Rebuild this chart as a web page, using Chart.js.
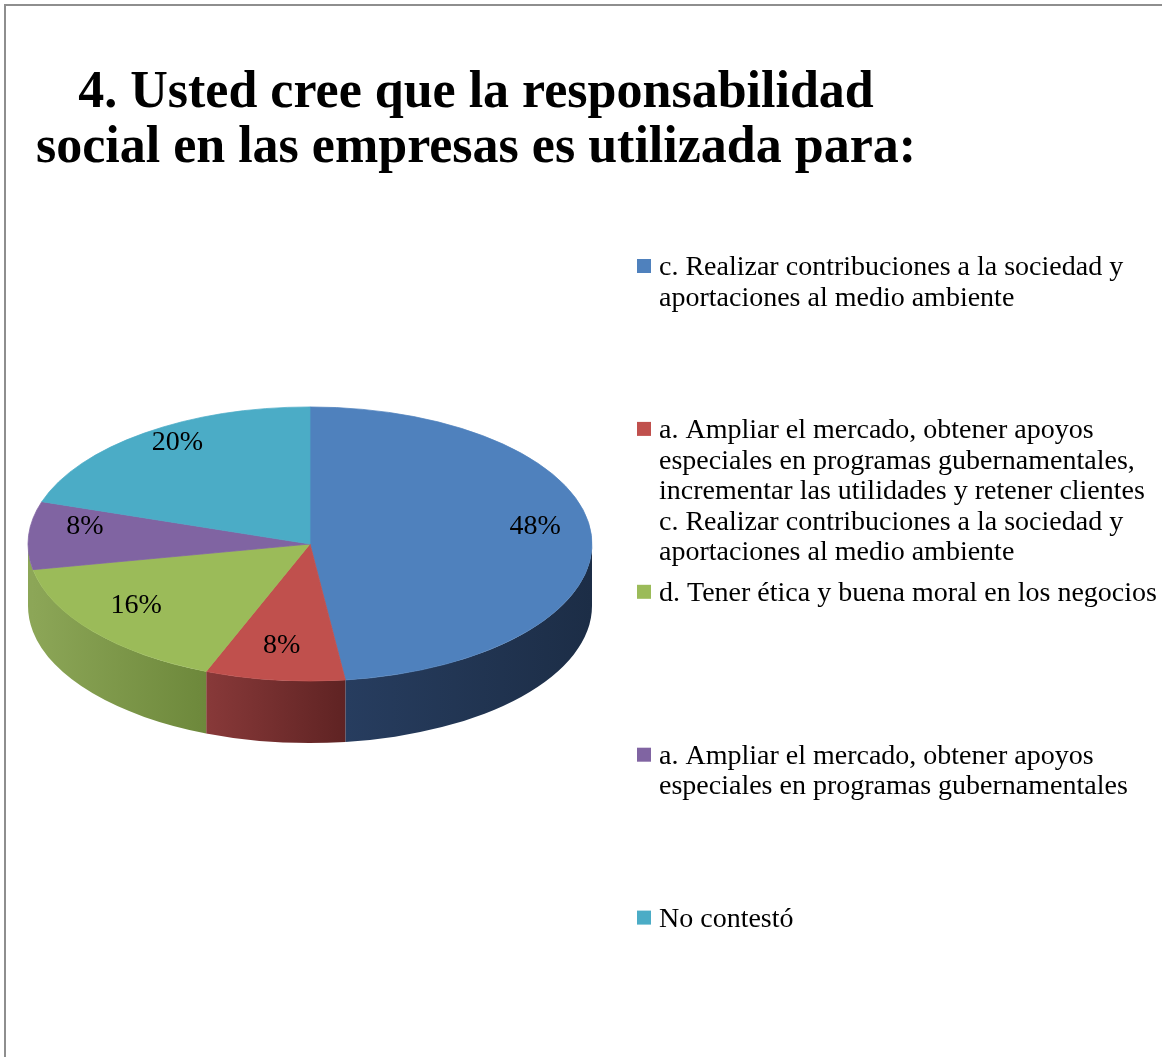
<!DOCTYPE html>
<html lang="es">
<head>
<meta charset="utf-8">
<title>Responsabilidad social en las empresas</title>
<script src="https://cdn.jsdelivr.net/npm/chart.js@4.4.1/dist/chart.umd.min.js"></script>
<style>
    html, body { margin: 0; padding: 0; background: #fff; }
    canvas { display: block; }
</style>
</head>
<body>
<canvas id="grafico" width="1162" height="1057"></canvas>
<script>
// Datos de la pregunta 4
const tituloLineas = [
    '4. Usted cree que la responsabilidad',
    'social en las empresas es utilizada para:'
];

const etiquetas = [
    ['c. Realizar contribuciones a la sociedad y', 'aportaciones al medio ambiente'],
    ['a. Ampliar el mercado, obtener apoyos', 'especiales en programas gubernamentales,',
     'incrementar las utilidades y retener clientes', 'c. Realizar contribuciones a la sociedad y',
     'aportaciones al medio ambiente'],
    ['d. Tener ética y buena moral en los negocios'],
    ['a. Ampliar el mercado, obtener apoyos', 'especiales en programas gubernamentales'],
    ['No contestó']
];

const porcentajes = [48, 8, 16, 8, 20];

// Colores de la cara superior y del costado (claro -> oscuro)
const colores = ['#4F81BD', '#C0504D', '#9BBB59', '#8064A2', '#4BACC6'];
const coloresLadoClaro = ['#273d5f', '#883939', '#8ca657', '#8ca657', '#3f93a9'];
const coloresLadoOscuro = ['#1c2d46', '#5f2323', '#6d883b', '#8ca657', '#2f7588'];

// Ajustes del pastel "3D"
const RADIO = 282;
const ACHATADO = 0.486;   // proporción vertical de la elipse
const GROSOR = 62;        // alto del costado

const FUENTE = '"Liberation Serif", "DejaVu Serif", serif';

// Marco gris del gráfico
const marco = {
    id: 'marco',
    beforeDraw(chart) {
        const ctx = chart.ctx;
        ctx.save();
        ctx.fillStyle = '#fff';
        ctx.fillRect(0, 0, chart.width, chart.height);
        ctx.strokeStyle = '#8e8e8e';
        ctx.lineWidth = 2;
        ctx.strokeRect(5, 5, chart.width + 40, chart.height + 40);
        ctx.restore();
    }
};

// El título se centra sobre todo el ancho, no sólo sobre el pastel
const tituloAncho = {
    id: 'tituloAncho',
    afterLayout(chart) {
        const t = chart.titleBlock;
        if (!t) return;
        t.left = 0;
        t.right = 952;
        t.width = 952;
    }
};

// Costado del pastel + achatado de la cara superior
const pastel3d = {
    id: 'pastel3d',
    beforeDatasetsDraw(chart) {
        const ctx = chart.ctx;
        const arcos = chart.getDatasetMeta(0).data;
        if (!arcos.length) return;

        arcos.forEach((arc, i) => {
            const {x, y, startAngle, endAngle, outerRadius} =
                arc.getProps(['x', 'y', 'startAngle', 'endAngle', 'outerRadius'], true);
            // sólo se ve la mitad delantera (0 .. PI)
            const a0 = Math.max(startAngle, 0);
            const a1 = Math.min(endAngle, Math.PI);
            if (a0 >= a1) return;

            const ry = outerRadius * ACHATADO;
            const grad = ctx.createLinearGradient(x + Math.cos(a1) * outerRadius, 0,
                                                  x + Math.cos(a0) * outerRadius, 0);
            grad.addColorStop(0, coloresLadoClaro[i]);
            grad.addColorStop(1, coloresLadoOscuro[i]);

            ctx.save();
            ctx.beginPath();
            ctx.ellipse(x, y, outerRadius, ry, 0, a0, a1);
            ctx.ellipse(x, y + GROSOR, outerRadius, ry, 0, a1, a0, true);
            ctx.closePath();
            ctx.fillStyle = grad;
            ctx.fill();
            ctx.restore();
        });

        const {x, y} = arcos[0];
        ctx.save();
        ctx.translate(x, y);
        ctx.scale(1, ACHATADO);
        ctx.translate(-x, -y);
    },
    afterDatasetsDraw(chart) {
        const ctx = chart.ctx;
        const arcos = chart.getDatasetMeta(0).data;
        if (!arcos.length) return;
        ctx.restore();

        // porcentajes sobre cada porción
        const valores = chart.data.datasets[0].data;
        ctx.save();
        ctx.font = '28px ' + FUENTE;
        ctx.fillStyle = '#000';
        ctx.textAlign = 'center';
        ctx.textBaseline = 'middle';
        arcos.forEach((arc, i) => {
            const {x, y, startAngle, endAngle, outerRadius} =
                arc.getProps(['x', 'y', 'startAngle', 'endAngle', 'outerRadius'], true);
            const medio = (startAngle + endAngle) / 2;
            const px = x + Math.cos(medio) * outerRadius * 0.8;
            const py = y + Math.sin(medio) * outerRadius * 0.82 * ACHATADO - 10;
            ctx.fillText(valores[i] + '%', px, py);
        });
        ctx.restore();
    }
};

// Leyenda a la derecha, repartida en alturas iguales
const leyendaLateral = {
    id: 'leyendaLateral',
    afterDraw(chart) {
        const ctx = chart.ctx;
        const fondo = chart.data.datasets[0].backgroundColor;
        const inicio = 259;
        const paso = 162.9;
        ctx.save();
        ctx.font = '28px ' + FUENTE;
        ctx.textBaseline = 'alphabetic';
        ctx.textAlign = 'left';
        chart.data.labels.forEach((lineas, i) => {
            const top = inicio + i * paso;
            ctx.fillStyle = fondo[i];
            ctx.fillRect(637, top, 14, 14);
            ctx.fillStyle = '#000';
            lineas.forEach((texto, j) => {
                ctx.fillText(texto, 659, top + 16 + j * 30.6);
            });
        });
        ctx.restore();
    }
};

const grafico = new Chart(document.getElementById('grafico'), {
    type: 'pie',
    data: {
        labels: etiquetas,
        datasets: [{
            data: porcentajes,
            backgroundColor: colores,
            borderColor: colores,
            borderWidth: 1,
            radius: RADIO
        }]
    },
    options: {
        responsive: false,
        animation: false,
        events: [],
        rotation: 0,
        layout: {
            padding: { left: 28, right: 570, top: 0, bottom: 169 }
        },
        plugins: {
            legend: { display: false },
            tooltip: { enabled: false },
            title: {
                display: true,
                text: tituloLineas,
                color: '#000',
                font: { family: FUENTE, size: 52, weight: 'bold', lineHeight: 55 / 52 },
                padding: { top: 66, bottom: 24 }
            }
        }
    },
    plugins: [marco, tituloAncho, pastel3d, leyendaLateral]
});
</script>
</body>
</html>
